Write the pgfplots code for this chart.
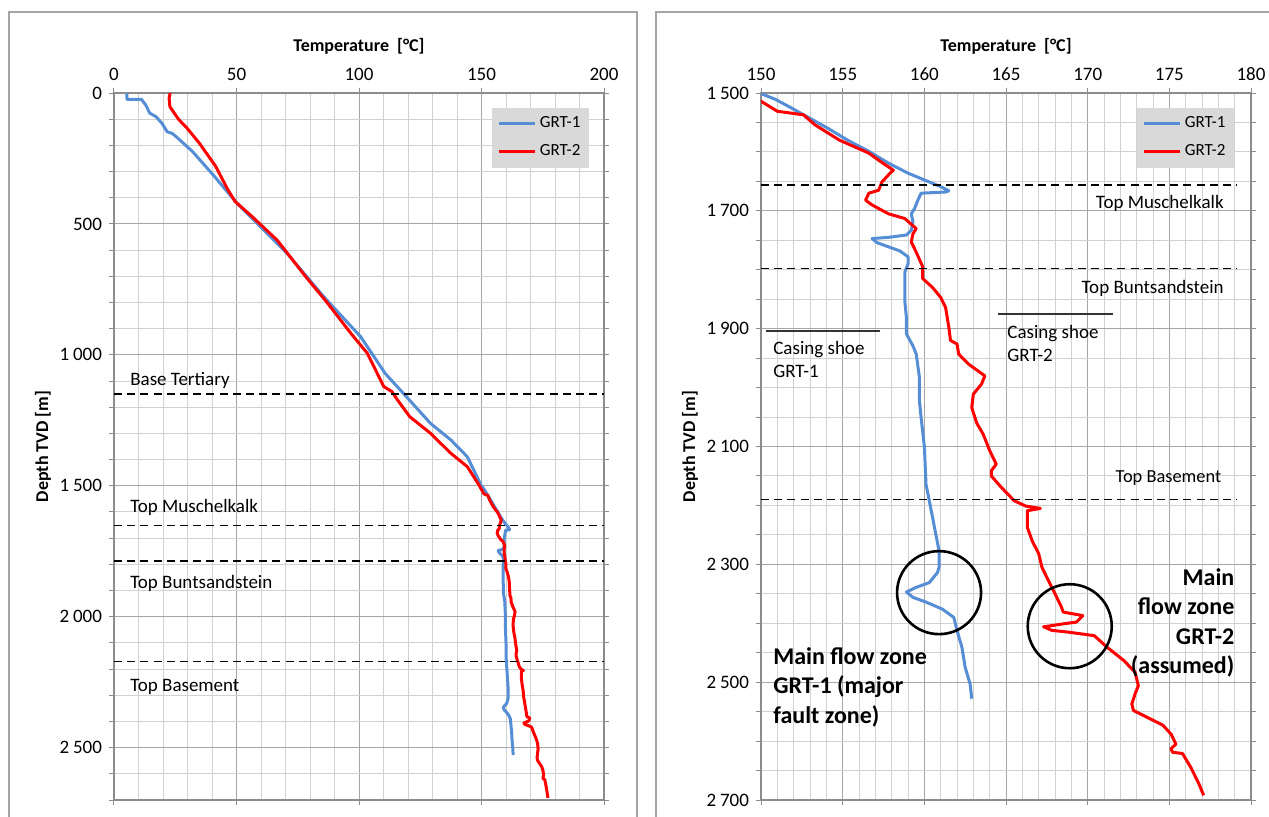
\documentclass[border=0pt]{standalone}
\usepackage{pgfplots}
\usepackage{pgfplotstable}
\pgfplotsset{compat=1.18}
\usepackage{fontspec}
\setmainfont{Carlito}
\definecolor{grtblue}{RGB}{85,142,213}
\definecolor{grtred}{RGB}{255,0,0}
\definecolor{leggray}{RGB}{217,217,217}
\definecolor{framegray}{RGB}{165,165,165}

\pgfplotstableread{
T d
5.3 0
5.3 24
11.2 24
12.9 45
14.6 77
17.1 90
19.6 116
21.7 148
23.7 154
25.4 167
32.1 224
40.5 313
50.2 421
70.6 612
85.6 778
100.7 931
110.7 1071
118.2 1148
124.2 1210
129.1 1261
137.5 1325
144.2 1389
150.0 1501
150.9 1511
151.9 1526
152.8 1540
154.1 1560
155.3 1580
156.6 1599
157.8 1619
159.0 1636
160.3 1651
161.0 1659
161.5 1666
161.3 1668
159.8 1670
159.6 1682
159.4 1696
159.2 1705
159.3 1719
159.2 1733
158.9 1741
157.8 1745
156.8 1747
157.1 1754
157.8 1761
158.5 1768
159.0 1778
159.0 1790
158.8 1804
158.8 1824
158.8 1852
158.9 1881
158.9 1909
159.3 1929
159.5 1943
159.7 1983
159.7 2023
159.8 2051
160.0 2100
160.1 2164
160.3 2192
160.5 2220
160.7 2249
160.9 2277
160.9 2305
160.8 2314
160.3 2331
159.5 2339
158.9 2347
159.3 2356
160.1 2364
161.1 2376
161.8 2390
162.0 2412
162.3 2441
162.5 2475
162.8 2503
162.9 2528
}\grtone

\pgfplotstableread{
T d
22.9 0
22.5 20
22.8 52
24.6 77
26.5 102
29.8 134
34.8 191
41.5 280
46.5 370
49.5 415
56.5 473
66.6 562
78.3 702
86.7 797
96.7 918
103.4 994
110.1 1121
113.4 1140
115.7 1172
120.7 1236
129.1 1299
137.5 1376
144.2 1427
148.5 1490
150.0 1514
151.0 1531
152.6 1537
153.3 1554
154.8 1580
156.6 1602
157.3 1616
158.1 1631
157.9 1636
157.4 1651
157.2 1665
156.6 1670
156.4 1682
156.8 1690
157.8 1705
158.8 1713
159.5 1730
159.3 1739
159.2 1753
159.5 1770
159.9 1795
159.9 1815
160.5 1830
161.0 1847
161.3 1864
161.5 1898
161.6 1920
162.0 1926
162.1 1943
162.7 1960
163.7 1980
163.5 1994
163.0 2011
162.9 2034
163.1 2051
163.2 2060
163.6 2079
164.0 2107
164.4 2130
164.1 2141
164.1 2150
164.7 2169
165.5 2192
166.2 2201
167.1 2205
166.3 2209
166.3 2237
166.6 2260
167.0 2282
167.2 2305
167.6 2328
168.0 2350
168.4 2373
168.5 2381
169.7 2387
169.3 2398
168.5 2401
167.3 2406
167.8 2412
168.8 2415
170.4 2421
171.2 2441
172.2 2463
172.9 2483
173.1 2506
172.9 2520
172.7 2537
172.8 2548
173.6 2559
174.6 2573
175.1 2588
175.4 2605
175.1 2613
175.2 2619
175.8 2621
176.3 2644
176.8 2672
177.1 2692
}\grttwo

\tikzset{annot/.style={font=\fontsize{9.5}{11.5}\selectfont, inner sep=0pt}}
\pgfplotsset{
  myaxis/.style={
    scale only axis, width=245pt, height=353.5pt,
    y dir=reverse,
    xticklabel pos=right,
    tick align=outside,
    major tick length=2.5pt, minor tick length=2.5pt,
    grid=both,
    major grid style={draw=black!35, line width=0.5pt},
    minor grid style={draw=black!18, line width=0.5pt},
    axis line style={draw=black!45, line width=0.6pt},
    every tick/.style={draw=black!45, line width=0.5pt},
    minor x tick style={draw=none},
    ticklabel style={font=\fontsize{9.5}{10}\selectfont},
    /pgf/number format/assume math mode=true,
    /pgf/number format/1000 sep={\hspace{0.2em}},
    xlabel={\textbf{Temperature\ \ [°C]}},
    ylabel={\textbf{Depth TVD [m]}},
    label style={font=\fontsize{9}{10}\selectfont},
    xlabel style={at={(axis description cs:0.5,1.0658)},anchor=center},
    ylabel style={at={(axis description cs:-0.1449,0.5)},anchor=center},
    legend style={fill=leggray, draw=none, font=\fontsize{8.5}{10}\selectfont,
      anchor=north east, inner sep=3pt, row sep=4pt,
      nodes={inner sep=1.5pt}},
    legend image code/.code={\draw[#1] (0pt,0pt) -- (18pt,0pt);},
    legend cell align=left,
  },
  curveone/.style={grtblue, line width=1.5pt, line join=round},
  curvetwo/.style={grtred, line width=1.5pt, line join=round},
  horizon/.style={black, line width=0.75pt, dash pattern=on 4pt off 2.6pt, forget plot},
}

\begin{document}
\begin{tikzpicture}
% frames
\draw[framegray, line width=1pt] (4.5pt,-5pt) -- (4.5pt,402pt) -- (318.5pt,402pt) -- (318.5pt,-5pt);
\draw[framegray, line width=1pt] (328pt,-5pt) -- (328pt,402pt) -- (645pt,402pt);

% left axis
\begin{axis}[myaxis, at={(57pt,8pt)}, anchor=south west,
  xmin=0, xmax=200, ymin=0, ymax=2700,
  xtick={0,50,...,200}, ytick={0,500,...,2500},
  minor xtick={0,10,...,200}, minor ytick={0,100,...,2700},
  legend style={at={(0.971,0.980)}},
]
\addplot[curveone] table[x=T,y=d] {\grtone};
\addlegendentry{GRT-1}
\addplot[curvetwo] table[x=T,y=d] {\grttwo};
\addlegendentry{GRT-2}
\addplot[horizon] coordinates {(0,1149) (200,1149)};
\addplot[horizon] coordinates {(0,1652) (200,1652)};
\addplot[horizon] coordinates {(0,1787) (200,1787)};
\addplot[horizon] coordinates {(0,2171) (200,2171)};
\node[annot, anchor=west] at (axis cs:6.5,1096) {Base Tertiary};
\node[annot, anchor=west] at (axis cs:6.5,1581) {Top Muschelkalk};
\node[annot, anchor=west] at (axis cs:6.5,1871) {Top Buntsandstein};
\node[annot, anchor=west] at (axis cs:6.5,2268) {Top Basement};
\end{axis}

% right axis
\begin{axis}[myaxis, at={(380.5pt,8pt)}, anchor=south west,
  xmin=150, xmax=180, ymin=1500, ymax=2700,
  xtick={150,155,...,180}, ytick={1500,1700,...,2700},
  minor xtick={150,151,...,180}, minor ytick={1500,1550,...,2700},
  legend style={at={(0.967,0.980)}},
]
\addplot[curveone] table[x=T,y=d] {\grtone};
\addlegendentry{GRT-1}
\addplot[curvetwo] table[x=T,y=d] {\grttwo};
\addlegendentry{GRT-2}
\addplot[horizon] coordinates {(150,1656) (179.1,1656)};
\addplot[horizon] coordinates {(150,1798) (179.1,1798)};
\addplot[horizon] coordinates {(150,2190) (179.1,2190)};
\addplot[black!80, line width=1pt, forget plot] coordinates {(150.3,1904) (157.3,1904)};
\addplot[black!80, line width=1pt, forget plot] coordinates {(164.5,1875) (171.55,1875)};
\node[annot, anchor=east] at (axis cs:178.35,1688) {Top Muschelkalk};
\node[annot, anchor=east] at (axis cs:178.35,1831) {Top Buntsandstein};
\node[annot, anchor=east, font=\fontsize{9.2}{10}\selectfont] at (axis cs:178.2,2154) {Top Basement};
\node[annot, anchor=west, align=left] at (axis cs:150.73,1952) {Casing shoe\\GRT-1};
\node[annot, anchor=west, align=left] at (axis cs:165.06,1924.5) {Casing shoe\\GRT-2};
\node[inner sep=0pt, anchor=west, align=left, font=\fontsize{12}{14.75}\selectfont\bfseries] at (axis cs:150.73,2508.5) {Main flow zone\\GRT-1 (major\\fault zone)};
\node[inner sep=0pt, anchor=east, align=right, font=\fontsize{12}{14.75}\selectfont\bfseries] at (axis cs:179.0,2399) {Main\\flow zone\\GRT-2\\(assumed)};
\draw[black, line width=1.3pt] (axis cs:160.9,2348) ellipse [x radius=21pt, y radius=20.75pt];
\draw[black, line width=1.3pt] (axis cs:168.9,2405) ellipse [x radius=21pt, y radius=21pt];
\end{axis}

\pgfresetboundingbox
\useasboundingbox (0,0) rectangle (634.5pt,408pt);
\end{tikzpicture}
\end{document}
